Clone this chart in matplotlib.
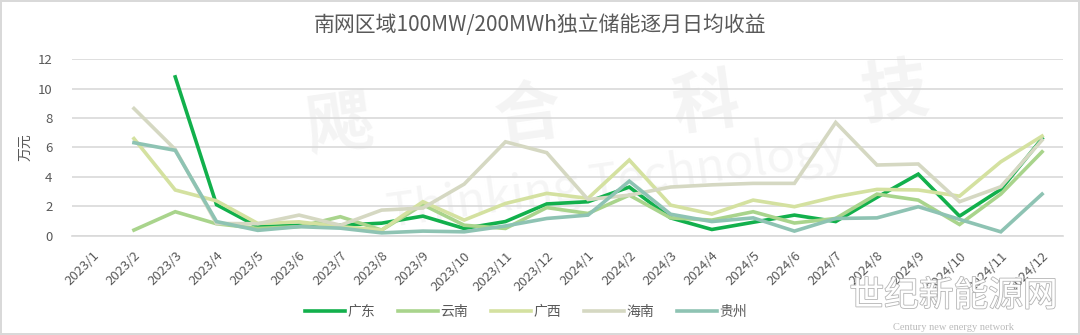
import numpy as np
import matplotlib
matplotlib.use("Agg")
import matplotlib.pyplot as plt
import matplotlib.patheffects as pe

plt.rcParams['font.family'] = ['Noto Sans CJK SC', 'DejaVu Sans']

# monthly labels, 2023/1 .. 2024/12
months = [f"2023/{m}" for m in range(1, 13)] + [f"2024/{m}" for m in range(1, 13)]

nan = np.nan
guangdong = [nan, nan, 10.8, 2.1, 0.6, 0.7, 0.7, 0.84, 1.32, 0.48, 0.95, 2.15,
             2.3, 3.3, 1.2, 0.41, 0.9, 1.39, 0.95, 2.6, 4.18, 1.32, 3.14, 6.6]
yunnan = [nan, 0.37, 1.62, 0.8, 0.48, 0.6, 1.28, 0.37, 2.1, 0.7, 0.48, 1.9,
          1.5, 2.75, 1.2, 1.05, 1.62, 0.85, 1.16, 2.82, 2.41, 0.75, 2.82, 5.7]
guangxi = [nan, 6.6, 3.1, 2.36, 0.82, 0.93, 0.6, 0.37, 2.3, 1.05, 2.18, 2.87,
           2.53, 5.14, 2.07, 1.46, 2.41, 1.96, 2.64, 3.14, 3.1, 2.68, 5.02, 6.77]
hainan = [nan, 8.65, 5.86, 0.82, 0.8, 1.39, 0.7, 1.73, 1.87, 3.5, 6.38, 5.64,
          2.45, 2.75, 3.3, 3.45, 3.55, 3.55, 7.7, 4.8, 4.87, 2.3, 3.32, 6.5]
guizhou = [nan, 6.32, 5.8, 0.95, 0.35, 0.6, 0.5, 0.18, 0.3, 0.25, 0.65, 1.16,
           1.39, 3.7, 1.45, 0.95, 1.2, 0.3, 1.16, 1.2, 1.96, 1.1, 0.25, 2.82]

series = [
    ("广东", guangdong, "#12b04c"),
    ("云南", yunnan, "#a9d48c"),
    ("广西", guangxi, "#d4e1a0"),
    ("海南", hainan, "#d5d8c2"),
    ("贵州", guizhou, "#8ec3b3"),
]

fig = plt.figure(figsize=(10.8, 3.35), dpi=100)
fig.patch.set_edgecolor("#d9d9d9")
fig.patch.set_linewidth(1.5)
ax = fig.add_axes([0.0667, 0.297, 0.9173, 0.526])

# faint background watermark
for s, (wx, wy) in zip("飔合科技", [(0.27, 0.62), (0.46, 0.68), (0.64, 0.74), (0.83, 0.80)]):
    ax.text(wx, wy, s, transform=ax.transAxes, fontsize=48, color="#f4f4f4",
            ha="center", va="center", rotation=8, zorder=0, fontweight="bold")
ax.text(0.55, 0.30, "Thinking Technology", transform=ax.transAxes, fontsize=34,
        color="#f5f5f5", ha="center", va="center", rotation=8, zorder=0)

x = np.arange(len(months))
for name, vals, col in series:
    ax.plot(x, vals, color=col, lw=2.6, label=name, zorder=3,
            solid_joinstyle="miter")

ax.set_xlim(-0.5, len(months) - 0.5)
ax.set_ylim(0, 12)
ax.set_yticks(range(0, 13, 2))
ax.grid(axis="y", color="#d9d9d9", lw=1.2)
ax.set_axisbelow(True)
for sp in ["top", "right", "left"]:
    ax.spines[sp].set_visible(False)
ax.spines["bottom"].set_color("#d9d9d9")
ax.spines["bottom"].set_linewidth(1.2)
ax.tick_params(axis="both", length=0, colors="#595959", labelsize=9.5)
ax.tick_params(axis="y", pad=14)
ax.set_xticks(x)
ax.set_xticklabels(months, rotation=45, ha="right", rotation_mode="anchor")
ax.tick_params(axis="x", pad=10)
ax.set_ylabel("万元", color="#595959", fontsize=10, labelpad=4)

fig.text(0.5, 0.925, "南网区域100MW/200MWh独立储能逐月日均收益", ha="center",
         va="center", fontsize=15, color="#595959")

fig.legend(loc="center", bbox_to_anchor=(0.487, 0.07), ncol=5, frameon=False,
           fontsize=10, handlelength=2.9, columnspacing=1.6, handletextpad=0.2,
           labelcolor="#595959")

# site watermark, lower right
fig.text(0.883, 0.115, "世纪新能源网", ha="center", va="center", fontsize=25,
         color="white", path_effects=[pe.withStroke(linewidth=1.2, foreground="#b5b5b5")])
fig.text(0.883, 0.022, "Century new energy network", ha="center", va="center",
         fontsize=7.5, color="#bbbbbb", family=["Liberation Serif", "DejaVu Serif"])

fig.savefig("out.png", dpi=100)
